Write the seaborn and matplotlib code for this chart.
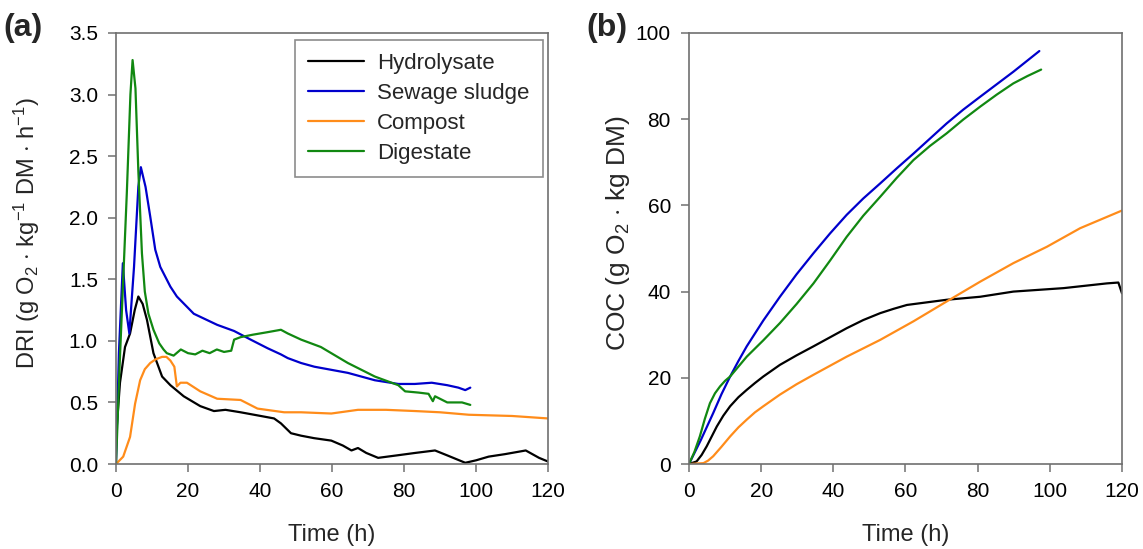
import numpy as np
import pandas as pd
import matplotlib.pyplot as plt
import seaborn as sns

# (a) DRI, g O2 / kg DM / h
hyd_t = [0, 1.1, 2.5, 3.9, 5.2, 6.2, 7.4, 8.6, 10.4, 12.8, 15.1, 18.8, 23.4, 27.2, 30.4, 34.6, 40.2, 43.9, 45.8, 48.6, 51.4, 55.0, 59.8, 63.0, 65.4, 67.2, 69.5, 72.8, 78.0, 83.1, 88.6, 92.0, 97.0, 100.0, 103.5, 108.0, 113.8, 117.5, 120.0]
hyd_v = [0.22, 0.66, 0.95, 1.06, 1.25, 1.36, 1.30, 1.17, 0.90, 0.71, 0.64, 0.55, 0.47, 0.43, 0.44, 0.42, 0.39, 0.37, 0.33, 0.25, 0.23, 0.21, 0.19, 0.15, 0.11, 0.13, 0.09, 0.05, 0.07, 0.09, 0.11, 0.07, 0.01, 0.03, 0.06, 0.08, 0.11, 0.05, 0.02]

sew_t = [0, 0.8, 1.9, 2.8, 3.7, 5.0, 6.2, 6.9, 8.2, 9.5, 10.9, 12.3, 15.1, 16.9, 21.6, 28.1, 32.8, 37.4, 42.1, 45.8, 47.7, 51.4, 55.1, 64.4, 71.9, 78.4, 83.0, 87.7, 92.0, 95.1, 97.0, 98.4]
sew_v = [0.0, 0.9, 1.63, 1.25, 1.06, 1.60, 2.25, 2.41, 2.25, 2.01, 1.74, 1.60, 1.44, 1.36, 1.22, 1.13, 1.08, 1.01, 0.94, 0.89, 0.86, 0.82, 0.79, 0.74, 0.68, 0.65, 0.65, 0.66, 0.64, 0.62, 0.60, 0.62]

com_t = [0, 2.0, 3.9, 5.3, 6.7, 8.0, 9.5, 11.0, 12.8, 14.0, 15.1, 16.2, 16.9, 17.9, 19.7, 23.4, 28.1, 34.6, 39.3, 46.7, 51.4, 59.8, 67.2, 75.0, 83.1, 90.0, 98.0, 110.0, 120.0]
com_v = [0.0, 0.06, 0.22, 0.49, 0.68, 0.77, 0.82, 0.85, 0.87, 0.87, 0.84, 0.79, 0.63, 0.66, 0.66, 0.59, 0.53, 0.52, 0.45, 0.42, 0.42, 0.41, 0.44, 0.44, 0.43, 0.42, 0.40, 0.39, 0.37]

dig_t = [0, 1.0, 2.0, 3.0, 4.0, 4.6, 5.4, 6.2, 7.2, 8.0, 9.0, 10.4, 12.0, 13.2, 14.1, 16.0, 18.0, 20.0, 22.0, 24.0, 26.0, 28.0, 30.0, 32.0, 32.8, 34.6, 38.0, 42.0, 45.8, 47.7, 51.4, 56.9, 64.4, 71.9, 78.4, 80.3, 84.0, 86.8, 88.0, 88.6, 92.0, 96.1, 98.4]
dig_v = [0.0, 0.8, 1.50, 2.20, 3.00, 3.28, 3.05, 2.38, 1.71, 1.40, 1.22, 1.09, 0.98, 0.93, 0.90, 0.88, 0.93, 0.90, 0.89, 0.92, 0.90, 0.93, 0.91, 0.92, 1.01, 1.03, 1.05, 1.07, 1.09, 1.06, 1.01, 0.95, 0.82, 0.71, 0.64, 0.59, 0.58, 0.57, 0.51, 0.55, 0.50, 0.50, 0.48]

# (b) COC, g O2 / kg DM
coc_hyd_t = [0, 2.1, 3.5, 4.9, 6.3, 7.7, 9.5, 11.4, 13.7, 16.0, 18.3, 20.6, 25.2, 29.8, 34.5, 39.1, 43.7, 48.3, 53.0, 56.7, 60.4, 71.4, 80.7, 89.9, 103.8, 115.8, 119.0, 120.0]
coc_hyd_v = [0, 0.6, 2.1, 4.1, 6.4, 8.7, 11.2, 13.4, 15.5, 17.2, 18.8, 20.3, 23.0, 25.2, 27.3, 29.4, 31.5, 33.4, 35.0, 36.0, 36.9, 38.1, 38.8, 40.0, 40.8, 41.9, 42.1, 39.6]

coc_sew_t = [0, 3.3, 6.7, 9.0, 11.4, 13.7, 16.0, 20.6, 25.2, 29.8, 34.5, 39.1, 43.7, 48.3, 53.0, 57.6, 62.2, 66.8, 71.4, 76.0, 80.7, 85.3, 89.9, 93.5, 97.1]
coc_sew_v = [0, 5.6, 11.8, 16.2, 20.3, 23.9, 27.3, 33.3, 38.8, 44.0, 48.9, 53.5, 57.8, 61.6, 65.1, 68.6, 72.0, 75.5, 79.0, 82.2, 85.2, 88.1, 91.0, 93.4, 95.8]

coc_com_t = [0, 4.0, 5.3, 6.7, 9.0, 11.4, 13.7, 16.0, 18.3, 20.6, 25.2, 29.8, 34.5, 43.7, 53.0, 62.2, 71.4, 80.7, 89.9, 99.2, 108.4, 120.0]
coc_com_v = [0, 0.2, 0.8, 1.8, 4.0, 6.4, 8.5, 10.3, 12.0, 13.4, 16.1, 18.5, 20.7, 24.9, 28.8, 33.1, 37.7, 42.3, 46.6, 50.4, 54.7, 58.8]

coc_dig_t = [0, 1.5, 3.0, 4.4, 5.8, 7.2, 8.6, 10.0, 11.4, 13.7, 16.0, 20.6, 25.2, 29.8, 34.5, 39.1, 43.7, 48.3, 53.0, 57.6, 62.2, 66.8, 71.4, 76.0, 80.7, 85.3, 89.9, 93.8, 97.6]
coc_dig_v = [0, 2.8, 6.4, 10.5, 14.1, 16.4, 18.0, 19.3, 20.3, 22.6, 24.9, 28.7, 32.7, 37.1, 41.9, 47.2, 52.7, 57.6, 62.0, 66.4, 70.5, 73.8, 76.7, 79.9, 82.9, 85.7, 88.3, 90.0, 91.5]

names = ["Hydrolysate", "Sewage sludge", "Compost", "Digestate"]
colors = {"Hydrolysate": "#000000", "Sewage sludge": "#0000CC",
          "Compost": "#FF8C1A", "Digestate": "#118811"}


def long_form(series):
    frames = []
    for name, t, v in series:
        frames.append(pd.DataFrame({"t": t, "v": v, "sample": name}))
    return pd.concat(frames, ignore_index=True)


dri = long_form([(names[0], hyd_t, hyd_v), (names[1], sew_t, sew_v),
                 (names[2], com_t, com_v), (names[3], dig_t, dig_v)])
coc = long_form([(names[0], coc_hyd_t, coc_hyd_v), (names[1], coc_sew_t, coc_sew_v),
                 (names[2], coc_com_t, coc_com_v), (names[3], coc_dig_t, coc_dig_v)])

sns.set_style("ticks")
plt.rcParams['font.family'] = ['Liberation Sans', 'DejaVu Sans']
plt.rcParams['mathtext.fontset'] = 'custom'
plt.rcParams['mathtext.rm'] = 'Liberation Sans'
plt.rcParams['mathtext.it'] = 'Liberation Sans:italic'

fig = plt.figure(figsize=(11.43, 5.49), dpi=100)
ax1 = fig.add_axes([0.1015, 0.1548, 0.378, 0.7852])
ax2 = fig.add_axes([0.6028, 0.1548, 0.3788, 0.7852])

sns.lineplot(data=dri, x="t", y="v", hue="sample", hue_order=names, palette=colors,
             sort=False, estimator=None, lw=1.6, ax=ax1)
sns.lineplot(data=coc, x="t", y="v", hue="sample", hue_order=names, palette=colors,
             sort=False, estimator=None, lw=1.6, ax=ax2, legend=False)

spine_col = "#707070"
for ax in (ax1, ax2):
    ax.set_xlim(0, 120)
    ax.set_xticks(np.arange(0, 121, 20))
    for s in ax.spines.values():
        s.set_visible(True)
        s.set_color(spine_col)
        s.set_linewidth(1.2)
    ax.tick_params(axis='both', direction='out', length=6, width=1.1, color=spine_col,
                   labelsize=15, labelcolor='black', pad=7)
    ax.set_xlabel("Time (h)", fontsize=17)
    ax.xaxis.set_label_coords(0.5, -0.14)

ax1.set_ylim(0, 3.5)
ax1.set_yticks(np.arange(0, 3.51, 0.5))
ax1.set_yticklabels([f"{v:.1f}" for v in np.arange(0, 3.51, 0.5)])
ax1.set_ylabel(r"DRI (g O$_2$ $\cdot$ kg$^{-1}$ DM $\cdot$ h$^{-1}$)", fontsize=17)
ax1.yaxis.set_label_coords(-0.171, 0.535)

ax2.set_ylim(0, 100)
ax2.set_yticks(np.arange(0, 101, 20))
ax2.set_ylabel(r"COC (g O$_2$ $\cdot$ kg DM)", fontsize=19)
ax2.yaxis.set_label_coords(-0.132, 0.535)

leg = ax1.legend(loc="upper right", fontsize=16, frameon=True, fancybox=False,
                 edgecolor=spine_col, handlelength=2.5, handletextpad=0.6,
                 borderpad=0.6, labelspacing=0.4, borderaxespad=0,
                 bbox_to_anchor=(0.988, 0.984))
leg.get_frame().set_linewidth(1.2)
for line in leg.get_lines():
    line.set_linewidth(1.6)

fig.text(0.003, 0.949, "(a)", fontsize=23, fontweight='bold', va='center')
fig.text(0.513, 0.949, "(b)", fontsize=23, fontweight='bold', va='center')

fig.savefig("out.png", dpi=100)
